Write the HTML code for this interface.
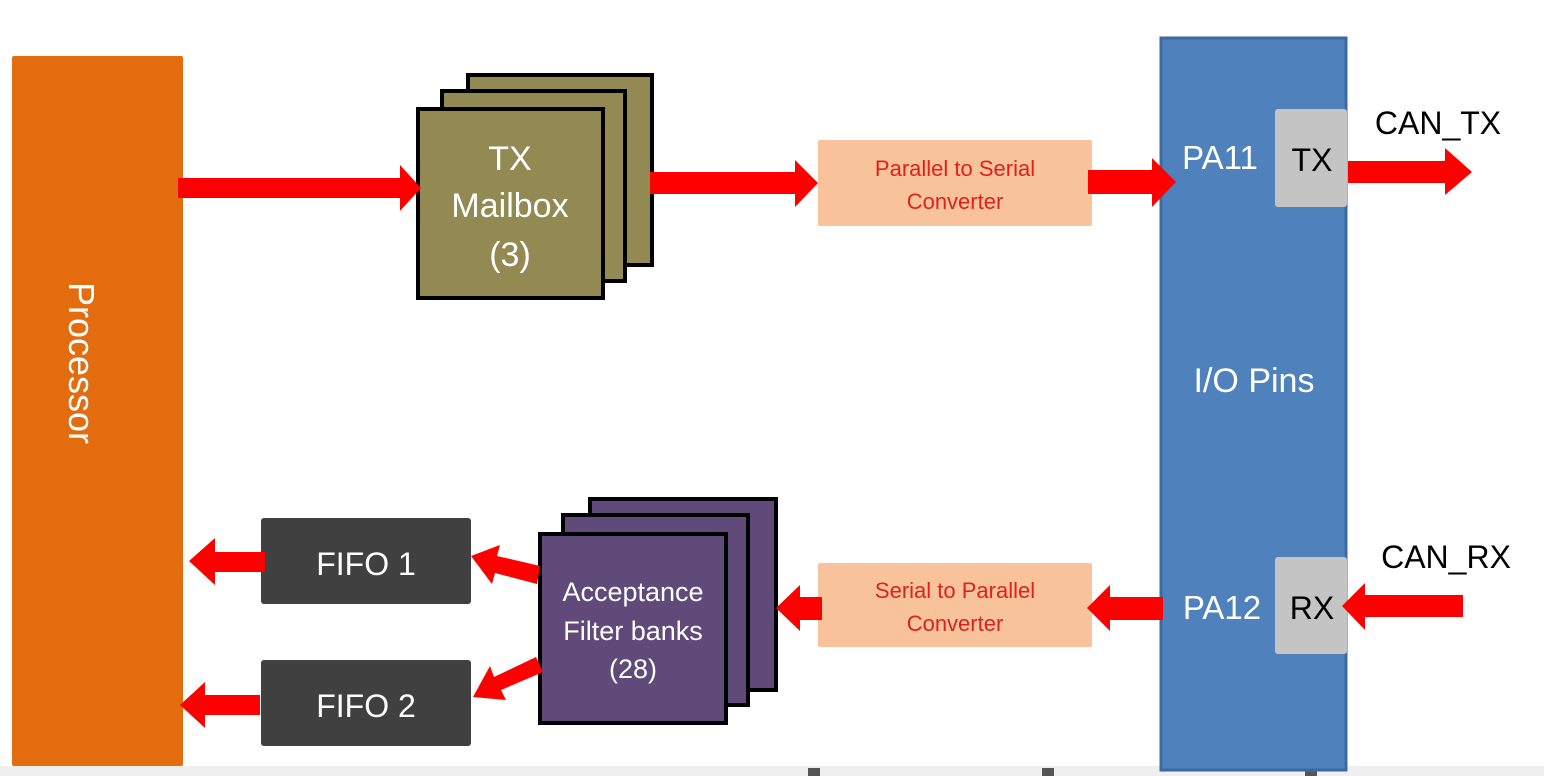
<!DOCTYPE html>
<html><head><style>html,body{margin:0;padding:0;background:#fff;width:1544px;height:776px;overflow:hidden}</style></head>
<body>
<svg width="1544" height="776" viewBox="0 0 1544 776" xmlns="http://www.w3.org/2000/svg" font-family="Liberation Sans, sans-serif">
<rect x="0" y="766" width="1544" height="10" fill="#efefef"/>
<rect x="808" y="768" width="12" height="8" fill="#555"/>
<rect x="1042" y="768" width="12" height="8" fill="#555"/>
<rect x="1305" y="768" width="12" height="8" fill="#555"/>
<rect x="12" y="56" width="171" height="710" fill="#e36c0f" rx="2"/>
<text x="0" y="0" transform="translate(69,363) rotate(90)" text-anchor="middle" font-size="36" fill="#fff">Processor</text>
<rect x="468" y="75" width="184" height="190" fill="#938953" stroke="#000" stroke-width="4"/>
<rect x="442" y="91" width="183" height="190" fill="#938953" stroke="#000" stroke-width="4"/>
<rect x="418" y="109" width="185" height="189" fill="#938953" stroke="#000" stroke-width="4"/>
<g fill="#fff" font-size="34" text-anchor="middle"><text x="510" y="170">TX</text><text x="510" y="217">Mailbox</text><text x="510" y="266">(3)</text></g>
<rect x="590" y="499" width="186" height="191" fill="#5f4a7a" stroke="#000" stroke-width="4"/>
<rect x="563" y="515" width="185" height="190" fill="#5f4a7a" stroke="#000" stroke-width="4"/>
<rect x="540" y="534" width="186" height="189" fill="#5f4a7a" stroke="#000" stroke-width="4"/>
<g fill="#fff" font-size="27" text-anchor="middle"><text x="633" y="601">Acceptance</text><text x="633" y="640">Filter banks</text><text x="633" y="678">(28)</text></g>
<rect x="818" y="140" width="274" height="86" fill="#f8c39b" rx="2"/>
<g fill="#e0201b" font-size="22" text-anchor="middle"><text x="955" y="176">Parallel to Serial</text><text x="955" y="209">Converter</text></g>
<rect x="818" y="563" width="274" height="84" fill="#f8c39b" rx="2"/>
<g fill="#e0201b" font-size="22" text-anchor="middle"><text x="955" y="598">Serial to Parallel</text><text x="955" y="631">Converter</text></g>
<rect x="261" y="518" width="210" height="86" fill="#404040" rx="3"/>
<text x="366" y="575" fill="#fff" font-size="32" text-anchor="middle">FIFO 1</text>
<rect x="261" y="660" width="210" height="86" fill="#404040" rx="3"/>
<text x="366" y="717" fill="#fff" font-size="32" text-anchor="middle">FIFO 2</text>
<rect x="1161" y="38" width="185" height="732" fill="#4f81bd" stroke="#3b6aa3" stroke-width="3"/>
<text x="1254" y="392" fill="#fff" font-size="34" text-anchor="middle">I/O Pins</text>
<text x="1220" y="169" fill="#fff" font-size="33" text-anchor="middle">PA11</text>
<text x="1222" y="619" fill="#fff" font-size="33" text-anchor="middle">PA12</text>
<rect x="1275" y="109" width="72" height="98" fill="#c4c4c4" rx="3"/>
<text x="1312" y="171" font-size="32" text-anchor="middle" fill="#000">TX</text>
<rect x="1275" y="557" width="72" height="97" fill="#c4c4c4" rx="3"/>
<text x="1312" y="619" font-size="32" text-anchor="middle" fill="#000">RX</text>
<text x="1438" y="134" font-size="32" text-anchor="middle" fill="#000">CAN_TX</text>
<text x="1446" y="568" font-size="32" text-anchor="middle" fill="#000">CAN_RX</text>
<g fill="#ff0000">
<polygon points="178,178 400,178 400,165 421,188 400,211 400,198 178,198"/>
<polygon points="650,172 795,172 795,160 818,183 795,207 795,194 650,194"/>
<polygon points="1088,170 1152,170 1152,158 1176,182 1152,207 1152,194 1088,194"/>
<polygon points="1348,161 1445,161 1445,148 1472,172 1445,195 1445,183 1348,183"/>
<polygon points="1463,595 1365,595 1365,583 1342,606 1365,630 1365,617 1463,617"/>
<polygon points="1163,597 1110,597 1110,585 1087,608 1110,631 1110,620 1163,620"/>
<polygon points="822,597 800,597 800,585 776,608 800,631 800,620 822,620"/>
<polygon points="265,552 215,552 215,538 189,561 215,585 215,572 265,572"/>
<polygon points="260,695 205,695 205,682 180,705 205,728 205,715 260,715"/>
<polygon points="540,566 497,556 500,545 471,556 492,584 495,573 537,584"/>
<polygon points="536,657 494,677 490,666 473,697 506,700 501,690 543,672"/>
</g>
</svg>
</body></html>
